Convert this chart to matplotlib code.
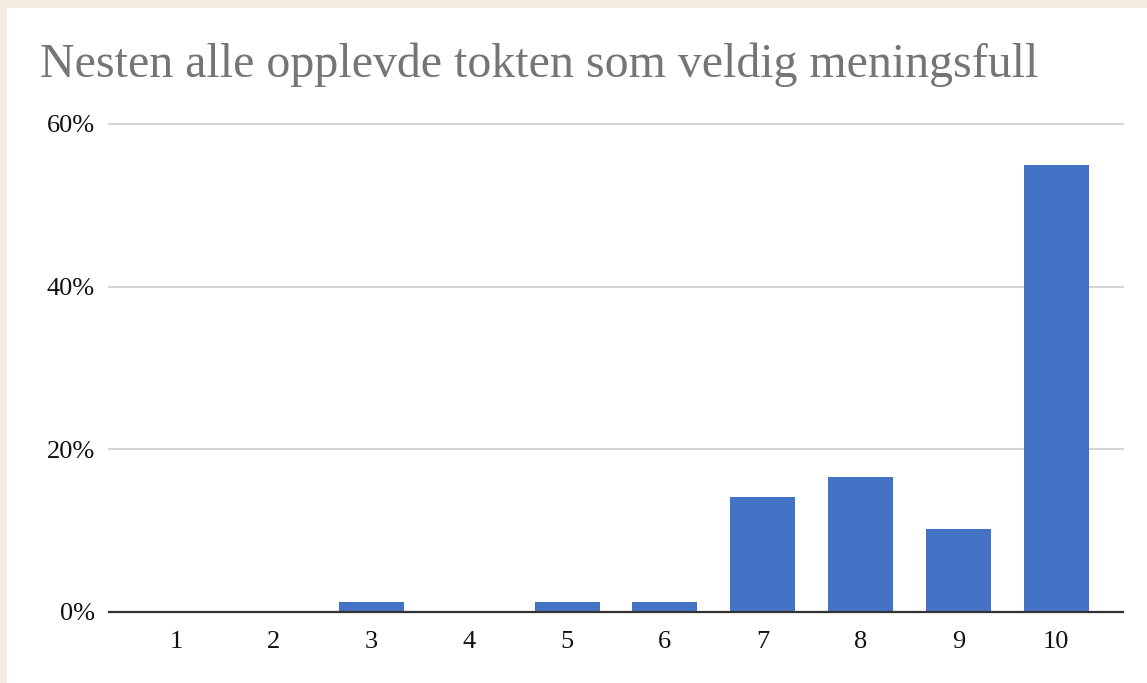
import matplotlib
matplotlib.use("Agg")
import matplotlib.pyplot as plt

categories = ["1", "2", "3", "4", "5", "6", "7", "8", "9", "10"]
values = [0.0, 0.0, 1.2, 0.0, 1.2, 1.2, 14.1, 16.6, 10.2, 55.0]
yticks = [0, 20, 40, 60]
ytick_labels = ["0%", "20%", "40%", "60%"]
title = "Nesten alle opplevde tokten som veldig meningsfull"

W, H = 1147, 683
fig = plt.figure(figsize=(W / 100, H / 100), dpi=100)
fig.patch.set_facecolor("#f3ede2")
bg = fig.add_axes([7 / W, 0, 1 - 7 / W, 1 - 8 / H], zorder=-5)
bg.set_facecolor("white")
bg.set_xticks([]); bg.set_yticks([])
for s in bg.spines.values():
    s.set_visible(False)

serif = ["Liberation Serif", "DejaVu Serif"]
ax = fig.add_axes([109 / W, 1 - 612 / H, (1123 - 109) / W, (612 - 124) / H], zorder=1)
ax.set_facecolor("none")

x = list(range(1, len(categories) + 1))
bars = ax.bar(x, values, width=0.663, color="#4472c4", zorder=3)

ax.set_xlim(0.316, 10.684)
ax.set_ylim(0, 60)
ax.set_yticks(yticks)
ax.set_yticklabels(ytick_labels, fontsize=19, family=serif, color="#111111")
ax.set_xticks(x)
ax.set_xticklabels(categories, fontsize=19, family=serif, color="#111111")
ax.tick_params(axis="y", length=0, pad=10)
ax.tick_params(axis="x", length=0, pad=14)
for s in ["top", "right", "left"]:
    ax.spines[s].set_visible(False)
ax.spines["bottom"].set_color("#333333")
ax.spines["bottom"].set_linewidth(1.6)
ax.spines["bottom"].set_zorder(4)
for t in yticks[1:]:
    ax.axhline(t, color="#cccccc", linewidth=1.2, zorder=1, clip_on=False)

fig.text(40 / W, 1 - 77 / H, title, fontsize=34.5, family=serif, color="#757575",
         ha="left", va="baseline", zorder=2)

fig.savefig("out.png", dpi=100, facecolor=fig.get_facecolor())
